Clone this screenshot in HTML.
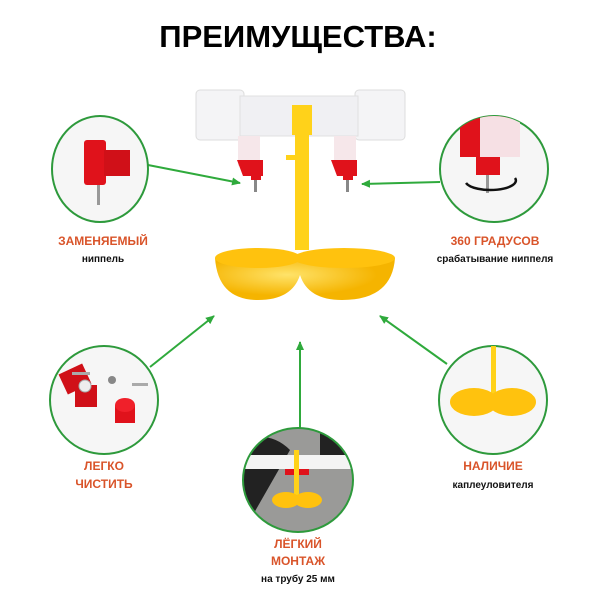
<!DOCTYPE html>
<html><head><meta charset="utf-8"><style>
html,body{margin:0;padding:0;background:#fff;}
svg{display:block}
.t{font-family:"Liberation Sans","DejaVu Sans",sans-serif;font-weight:bold;text-anchor:middle}
.o{fill:#d9542a;font-size:12px}
.b{fill:#111;font-size:10px}
</style></head><body>
<svg width="600" height="600" viewBox="0 0 600 600">
<defs>
<marker id="ar" markerWidth="10" markerHeight="10" refX="8" refY="5" orient="auto" markerUnits="userSpaceOnUse">
<path d="M0,1 L9,5 L0,9 Z" fill="#2faa3c"/></marker>
<radialGradient id="yl" cx="0.4" cy="0.4"><stop offset="0" stop-color="#ffe36a"/><stop offset="1" stop-color="#f5b400"/></radialGradient>
<clipPath id="cTR"><ellipse cx="494" cy="169" rx="54" ry="53"/></clipPath>
<clipPath id="cBC"><ellipse cx="298" cy="480" rx="55" ry="52"/></clipPath>
<clipPath id="cBR"><ellipse cx="493" cy="400" rx="54" ry="54"/></clipPath>
</defs>
<text x="298" y="47" class="t" style="font-size:31px;fill:#000">ПРЕИМУЩЕСТВА:</text>

<!-- main product -->
<rect x="196" y="90" width="48" height="50" rx="4" fill="#f4f4f6" stroke="#ddd"/>
<rect x="355" y="90" width="50" height="50" rx="4" fill="#f4f4f6" stroke="#ddd"/>
<rect x="240" y="96" width="118" height="40" fill="#f0f0f3" stroke="#e0e0e0"/>
<rect x="238" y="136" width="22" height="30" fill="#f6e7ea"/>
<rect x="334" y="136" width="22" height="30" fill="#f6e7ea"/>
<path d="M237,160 h26 v16 h-20 z" fill="#e0121b"/>
<path d="M331,160 h26 v16 h-20 z" fill="#e0121b"/>
<rect x="251" y="170" width="10" height="10" fill="#e0121b"/>
<rect x="343" y="170" width="10" height="10" fill="#e0121b"/>
<rect x="254" y="180" width="3" height="12" fill="#888"/>
<rect x="346" y="180" width="3" height="12" fill="#888"/>
<rect x="292" y="105" width="20" height="30" fill="#ffd21a"/>
<rect x="295" y="130" width="14" height="120" fill="#ffd21a"/>
<rect x="286" y="155" width="12" height="5" fill="#ffd21a"/>
<path d="M215,258 Q218,300 258,300 Q292,300 300,275 Q308,300 342,300 Q392,300 395,258 Z" fill="url(#yl)"/>
<ellipse cx="258" cy="258" rx="43" ry="10" fill="#ffc20e"/>
<ellipse cx="344" cy="258" rx="51" ry="10" fill="#ffc20e"/>

<!-- arrows -->
<g stroke="#2faa3c" stroke-width="2" fill="none" marker-end="url(#ar)">
<line x1="148" y1="165" x2="240" y2="183"/>
<line x1="440" y1="182" x2="362" y2="184"/>
<line x1="150" y1="367" x2="214" y2="316"/>
<line x1="300" y1="428" x2="300" y2="342"/>
<line x1="447" y1="364" x2="380" y2="316"/>
</g>

<!-- circles -->
<g stroke="#2e9a3c" stroke-width="2" fill="#f6f6f6">
<ellipse cx="100" cy="169" rx="48" ry="53"/>
<ellipse cx="494" cy="169" rx="54" ry="53"/>
<ellipse cx="104" cy="400" rx="54" ry="54"/>
<ellipse cx="493" cy="400" rx="54" ry="54"/>
</g>
<g clip-path="url(#cBC)">
<rect x="240" y="425" width="120" height="110" fill="#9a9a98"/>
<path d="M240,440 Q270,430 290,450 L250,520 L240,520 Z" fill="#222"/>
<path d="M320,428 L360,428 L355,465 L320,465 Z" fill="#222"/>
<rect x="240" y="455" width="120" height="14" fill="#f4f4f4"/>
<rect x="285" y="469" width="24" height="6" fill="#e0121b"/>
<rect x="294" y="450" width="5" height="45" fill="#ffd21a"/>
<ellipse cx="286" cy="500" rx="14" ry="8" fill="#ffc20e"/>
<ellipse cx="308" cy="500" rx="14" ry="8" fill="#ffc20e"/>
</g>
<ellipse cx="298" cy="480" rx="55" ry="52" fill="none" stroke="#2e9a3c" stroke-width="2"/>

<!-- top-left nipple -->
<rect x="84" y="140" width="22" height="45" rx="3" fill="#e0121b"/>
<rect x="104" y="150" width="26" height="26" fill="#d01018"/>
<rect x="97" y="185" width="3" height="20" fill="#999"/>
<!-- top-right -->
<g clip-path="url(#cTR)">
<rect x="460" y="110" width="50" height="47" fill="#e0121b"/>
<rect x="480" y="110" width="40" height="47" fill="#f6e0e4"/>
<rect x="476" y="157" width="24" height="18" fill="#e0121b"/>
<rect x="486" y="175" width="3" height="18" fill="#999"/>
<path d="M466,183 A24,9 0 1,0 515,178" stroke="#111" stroke-width="2.5" fill="none"/>
</g>
<!-- bottom-left parts -->
<rect x="62" y="368" width="26" height="22" fill="#d01018" transform="rotate(-25 75 379)"/>
<rect x="75" y="385" width="22" height="22" fill="#d01018"/>
<circle cx="85" cy="386" r="6" fill="#eee" stroke="#aaa"/>
<rect x="115" y="405" width="20" height="18" fill="#e0121b"/>
<ellipse cx="125" cy="405" rx="10" ry="7" fill="#f0202a"/>
<rect x="72" y="372" width="18" height="3" fill="#aaa"/>
<circle cx="112" cy="380" r="4" fill="#888"/>
<rect x="132" y="383" width="16" height="3" fill="#aaa"/>
<!-- bottom-right -->
<g clip-path="url(#cBR)">
<rect x="491" y="340" width="5" height="55" fill="#ffd21a"/>
<ellipse cx="474" cy="402" rx="24" ry="14" fill="#ffc20e"/>
<ellipse cx="512" cy="402" rx="24" ry="14" fill="#ffc20e"/>
</g>

<!-- labels -->
<text x="103" y="245" class="t o">ЗАМЕНЯЕМЫЙ</text>
<text x="103" y="262" class="t b">ниппель</text>
<text x="495" y="245" class="t o">360 ГРАДУСОВ</text>
<text x="495" y="262" class="t b">срабатывание ниппеля</text>
<text x="104" y="470" class="t o">ЛЕГКО</text>
<text x="104" y="488" class="t o">ЧИСТИТЬ</text>
<text x="493" y="470" class="t o">НАЛИЧИЕ</text>
<text x="493" y="488" class="t b">каплеуловителя</text>
<text x="298" y="548" class="t o">ЛЁГКИЙ</text>
<text x="298" y="565" class="t o">МОНТАЖ</text>
<text x="298" y="582" class="t b">на трубу 25 мм</text>
</svg>
</body></html>
